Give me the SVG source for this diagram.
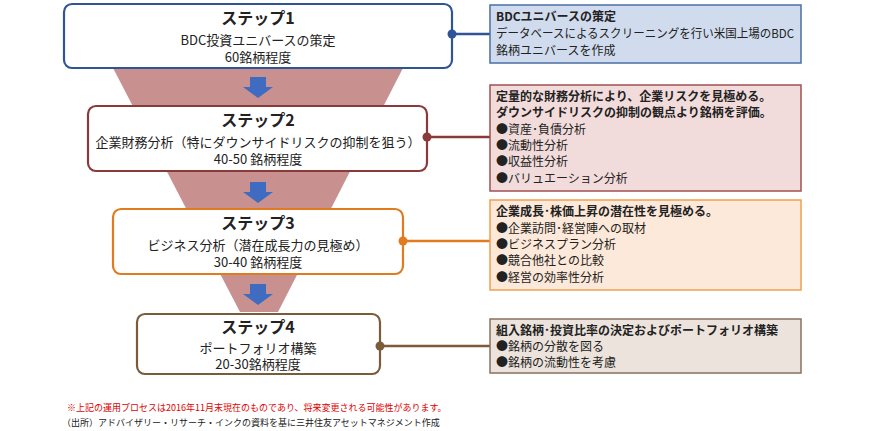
<svg xmlns="http://www.w3.org/2000/svg" width="880" height="431" viewBox="0 0 880 431">
<style>
text{font-family:"Noto Sans CJK JP","Liberation Sans",sans-serif;fill:#222}
.t{font-size:16px;font-weight:bold;text-anchor:middle}
.s{font-size:13px;text-anchor:middle}
.i{font-size:12px}
.b{font-weight:bold}
.box{fill:#fff;stroke-width:2.2}
</style>
<defs>
<polygon id="arr" points="-8,0 8,0 8,10 15,10 0,21 -15,10 -8,10" fill="#3f6cc0"/>
</defs>
<rect width="880" height="431" fill="#fff"/>
<polygon points="113,68 403,68 278,312 240,312" fill="#c89190"/>
<use href="#arr" x="258" y="77"/>
<use href="#arr" x="258" y="182"/>
<use href="#arr" x="258" y="284"/>
<g id="step1"><rect class="box" x="64" y="4" width="388" height="64" rx="8" stroke="#2f5597"/>
<text class="t" x="258" y="24">ステップ1</text><text class="s" x="258" y="45">BDC投資ユニバースの策定</text><text class="s" x="258" y="62">60銘柄程度</text></g>
<g id="step2"><rect class="box" x="88" y="106" width="339" height="65" rx="8" stroke="#8b3a3a"/>
<text class="t" x="258" y="126">ステップ2</text><text class="s" x="258" y="147">企業財務分析（特にダウンサイドリスクの抑制を狙う）</text><text class="s" x="258" y="164">40-50 銘柄程度</text></g>
<g id="step3"><rect class="box" x="113" y="209" width="290" height="65" rx="8" stroke="#e07b20"/>
<text class="t" x="258" y="229">ステップ3</text><text class="s" x="258" y="250">ビジネス分析（潜在成長力の見極め）</text><text class="s" x="258" y="267">30-40 銘柄程度</text></g>
<g id="step4"><rect class="box" x="137" y="314" width="243" height="60" rx="8" stroke="#7b5b3a"/>
<text class="t" x="258" y="333">ステップ4</text><text class="s" x="258" y="353">ポートフォリオ構築</text><text class="s" x="258" y="369">20-30銘柄程度</text></g>
<g id="connectors" stroke-width="2.5">
<line x1="452" y1="34" x2="490" y2="34" stroke="#2f5597"/><circle cx="452" cy="34" r="4.5" fill="#2f5597"/>
<line x1="427" y1="137" x2="490" y2="137" stroke="#8b3a3a"/><circle cx="427" cy="137" r="4.5" fill="#8b3a3a"/>
<line x1="403" y1="241" x2="490" y2="241" stroke="#e07b20"/><circle cx="403" cy="241" r="4.5" fill="#e07b20"/>
<line x1="380" y1="346" x2="490" y2="346" stroke="#7b5b3a"/><circle cx="380" cy="346" r="4.5" fill="#7b5b3a"/>
</g>
<g id="info1"><rect x="490" y="5" width="311" height="58" fill="#d0dcee" stroke="#4a6fa5" stroke-width="1.5"/>
<text class="i b" x="496" y="21">BDCユニバースの策定</text><text class="i" x="496" y="38" textLength="298" lengthAdjust="spacingAndGlyphs">データベースによるスクリーニングを行い米国上場のBDC</text><text class="i" x="496" y="55">銘柄ユニバースを作成</text></g>
<g id="info2"><rect x="490" y="85" width="311" height="106" fill="#f2dcdb" stroke="#a05050" stroke-width="1.5"/>
<text class="i b" x="496" y="101">定量的な財務分析により、企業リスクを見極める。</text><text class="i b" x="496" y="117">ダウンサイドリスクの抑制の観点より銘柄を評価。</text>
<text class="i" x="496" y="134">●資産･負債分析</text><text class="i" x="496" y="150">●流動性分析</text><text class="i" x="496" y="166">●収益性分析</text><text class="i" x="496" y="183">●バリュエーション分析</text></g>
<g id="info3"><rect x="490" y="200" width="311" height="90" fill="#fde9d9" stroke="#f0a050" stroke-width="1.5"/>
<text class="i b" x="496" y="216">企業成長･株価上昇の潜在性を見極める。</text>
<text class="i" x="496" y="233">●企業訪問･経営陣への取材</text><text class="i" x="496" y="249">●ビジネスプラン分析</text><text class="i" x="496" y="265">●競合他社との比較</text><text class="i" x="496" y="282">●経営の効率性分析</text></g>
<g id="info4"><rect x="490" y="319" width="311" height="54" fill="#ece4dc" stroke="#8a7060" stroke-width="1.5"/>
<text class="i b" x="496" y="335">組入銘柄･投資比率の決定およびポートフォリオ構築</text>
<text class="i" x="496" y="351">●銘柄の分散を図る</text><text class="i" x="496" y="367">●銘柄の流動性を考慮</text></g>
<text x="67" y="411" font-size="9" style="fill:#e00000">※上記の運用プロセスは2016年11月末現在のものであり、将来変更される可能性があります。</text>
<text x="62" y="426" font-size="9">（出所）アドバイザリー・リサーチ・インクの資料を基に三井住友アセットマネジメント作成</text>
</svg>
